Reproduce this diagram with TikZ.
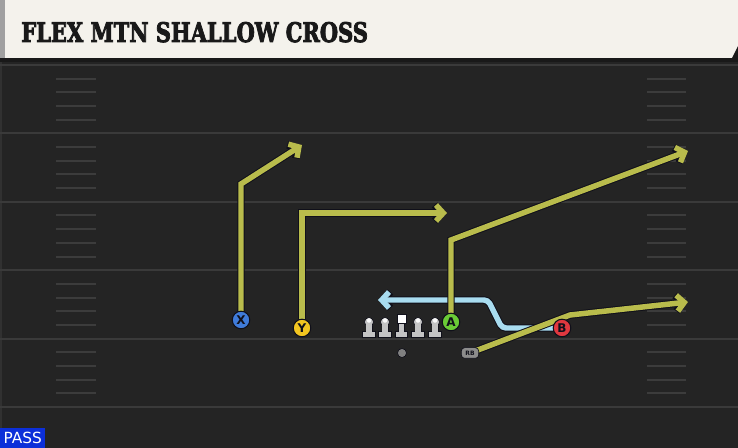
\documentclass[tikz,border=0pt]{standalone}
\usepackage{fontspec}
\setmainfont{DejaVu Sans}
\newfontfamily\titlefont{DejaVu Serif Bold}[FakeBold=3.5]
\usetikzlibrary{arrows.meta}
\pgfdeclarelayer{bg}\pgfdeclarelayer{routes}
\pgfsetlayers{bg,routes,main}
\definecolor{field}{HTML}{242424}
\definecolor{yardline}{HTML}{3A3A3A}
\definecolor{hashc}{HTML}{3C3C3C}
\definecolor{hdr}{HTML}{F4F2EC}
\definecolor{hdrside}{HTML}{A0A0A0}
\definecolor{routeyel}{HTML}{B9BC4C}
\definecolor{routeblue}{HTML}{A9DDF0}
\definecolor{outl}{HTML}{10101A}
\definecolor{xblue}{HTML}{3F7BD9}
\definecolor{yyellow}{HTML}{F2C520}
\definecolor{agreen}{HTML}{6ACB36}
\definecolor{bred}{HTML}{E0383F}
\definecolor{passblue}{HTML}{0C2FD9}
\definecolor{lineman}{HTML}{C4C4C4}
\tikzset{
  routeline/.style={draw=#1, line width=4.1pt, line join=miter,
    -{Straight Barb[length=5.5pt,width=12pt]},
    preaction={draw=outl, line width=5.6pt}},
  player/.style={circle, minimum size=13.2pt, inner sep=0pt, fill=#1, draw=outl,
    line width=0.8pt, font=\bfseries\fontsize{9}{9}\selectfont, text=outl},
  yard/.style={draw=yardline, line width=1.6pt},
  hashmark/.style={draw=hashc, line width=1.5pt},
  lmn/.style={fill=lineman, draw=outl, line width=0.5pt},
}
\begin{document}
\begin{tikzpicture}[x=0.75pt,y=-0.75pt]
\useasboundingbox (0,0) rectangle (738,448);
\begin{pgfonlayer}{bg}
  \fill[field] (0,0) rectangle (738,448);
  \fill[yardline!60!field] (0,62) rectangle (2,448);
  % header
  \fill[hdr] (0,0) rectangle (738,58);
  \fill[hdrside] (0,0) rectangle (5,58);
  \fill[black!90] (0,58) rectangle (738,62);
  \fill[black!90] (738,46) -- (738,58) -- (732,58) -- cycle;
  % yard lines and hash marks
  \foreach \k in {0,...,5}{
    \draw[yard] (0,{65+68.4*\k}) -- (738,{65+68.4*\k});
  }
  \foreach \k in {0,...,4}{
    \foreach \j in {1,...,4}{
      \draw[hashmark] (56,{65+68.4*\k+13.68*\j}) -- (96,{65+68.4*\k+13.68*\j});
      \draw[hashmark] (647,{65+68.4*\k+13.68*\j}) -- (686,{65+68.4*\k+13.68*\j});
    }
  }
\end{pgfonlayer}
% title
\node[anchor=base west, inner sep=0pt, text=black!90] (title) at (21,42)
  {\resizebox{260pt}{15pt}{\titlefont FLEX MTN SHALLOW CROSS}};
% PASS badge
\node[fill=passblue, anchor=south west, minimum width=33.75pt, minimum height=15pt,
  inner sep=0pt, text=white, font=\fontsize{11.5}{11.5}\selectfont] (pass) at (0,448) {PASS};
% players
\node[player=xblue] (X) at (241,320) {X};
\node[player=yyellow] (Y) at (302,328) {Y};
\node[player=agreen] (A) at (451,322) {A};
\node[player=bred] (B) at (562,328) {B};
\node[rounded corners=2.5pt, fill=black!45, draw=outl, line width=0.5pt,
  minimum width=13pt, minimum height=8pt, inner sep=0pt,
  font=\bfseries\fontsize{4.5}{4.5}\selectfont, text=outl] (RB) at (470,353) {RB};
\node[circle, fill=black!50, draw=outl, line width=0.5pt, minimum size=6.8pt,
  inner sep=0pt] (QB) at (402,353) {};
% linemen
\foreach \lx in {369,385,418,435}{
  \filldraw[lmn] (\lx-6.5,331) rectangle (\lx+6.5,337);
  \filldraw[lmn] (\lx-3,324) rectangle (\lx+3,332);
  \filldraw[lmn] (\lx,322) circle (3.4pt);
  \fill[lineman] (\lx-2.6,323) rectangle (\lx+2.6,333);
  \fill[lineman] (\lx-6,331.6) rectangle (\lx+6,336.4);
  \fill[white!90!lineman] (\lx,320.5) circle (1.7pt);
}
\filldraw[lmn] (395.5,331) rectangle (407.5,337);
\filldraw[lmn] (398.5,322) rectangle (404.5,332);
\fill[lineman] (399,322) rectangle (404,333);
\fill[lineman] (396,331.6) rectangle (407,336.4);
\filldraw[white, draw=outl, line width=0.5pt] (397,314) rectangle (406,323);
% route coordinates
\coordinate (Xc) at (241,184); \coordinate (Xe) at (302,145);
\coordinate (Yc) at (302,213); \coordinate (Ye) at (447,213);
\coordinate (Ac) at (451,240); \coordinate (Ae) at (688,151);
\coordinate (Bc1) at (502,328); \coordinate (Bc2) at (488,300); \coordinate (Be) at (378,300);
\coordinate (Rc) at (570,315); \coordinate (Re) at (688,302);
\begin{pgfonlayer}{routes}
  \draw[routeline=routeblue, rounded corners=3pt] (B.center) -- (Bc1) -- (Bc2) -- (Be);
  \draw[routeline=routeyel] (X.center) -- (Xc) -- (Xe);
  \draw[routeline=routeyel] (Y.center) -- (Yc) -- (Ye);
  \draw[routeline=routeyel] (A.center) -- (Ac) -- (Ae);
  \draw[routeline=routeyel] (RB.center) -- (Rc) -- (Re);
\end{pgfonlayer}
\end{tikzpicture}
\end{document}
